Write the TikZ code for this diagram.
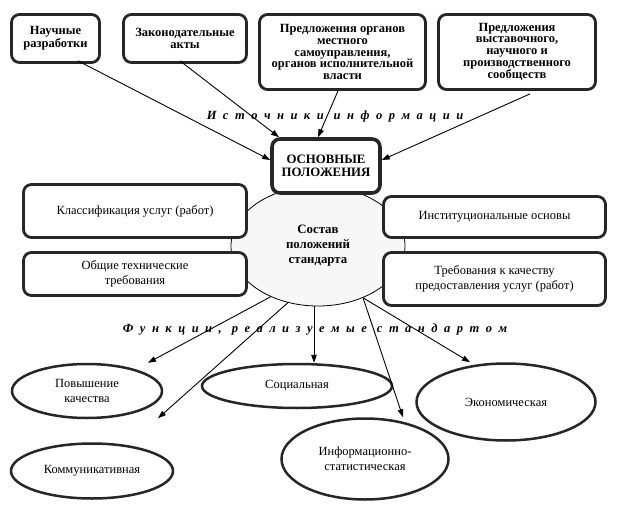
\documentclass[tikz,border=0pt]{standalone}
\usepackage{fontspec}
\setmainfont{Liberation Serif}
\usetikzlibrary{arrows.meta,shapes.geometric,calc}
\def\lsp#1{\lspi#1\relax}
\def\lspi#1{\ifx\relax#1\unskip\else#1\hskip6.5pt\expandafter\lspi\fi}
\begin{document}
\begin{tikzpicture}[x=1pt,y=-1pt,
  srcbox/.style={draw=black!85, line width=2.8pt, rounded corners=8pt, fill=white,
    align=center, inner sep=0pt, font=\fontsize{12.5}{11.6}\selectfont\bfseries},
  midbox/.style={draw=black!85, line width=2.8pt, rounded corners=8pt, fill=white,
    align=center, inner sep=0pt, font=\fontsize{12.5}{15}\selectfont},
  fnell/.style={draw=black!85, line width=2.5pt, ellipse, fill=white, inner sep=0pt,
    align=center, font=\fontsize{12.5}{15}\selectfont},
  arr/.style={draw=black, line width=0.9pt, -{Triangle[length=8pt,width=5.5pt]}},
  lbl/.style={font=\fontsize{12.5}{14}\selectfont\bfseries\itshape, inner sep=0pt}
]
\useasboundingbox (0,0) rectangle (618,505);

% central ellipse
\node[draw=black, line width=0.8pt, ellipse, fill=black!3, minimum width=174pt, minimum height=120pt,
  inner sep=0pt, align=center, font=\fontsize{12.8}{15}\selectfont\bfseries] (sost) at (318,246)
  {Состав\\положений\\стандарта};

% source boxes
\node[srcbox, minimum width=88pt, minimum height=48pt] (nauch) at (55.5,38.5) {Научные\\разработки};
\node[srcbox, minimum width=123pt, minimum height=48pt] (zakon) at (185,38.5) {Законодательные\\акты};
\node[srcbox, minimum width=166pt, minimum height=75pt] (organ) at (342.5,52)
  {Предложения органов\\местного\\самоуправления,\\органов исполнительной\\власти};
\node[srcbox, minimum width=157pt, minimum height=75pt] (vyst) at (517,52)
  {Предложения\\выставочного,\\научного и\\производственного\\сообществ};

% main box
\node[draw=black!85, line width=3.6pt, rounded corners=8pt, fill=white, align=center, inner sep=0pt,
  minimum width=108pt, minimum height=54pt, font=\fontsize{12.8}{13.5}\selectfont\bfseries] (main) at (326,166)
  {ОСНОВНЫЕ\\ПОЛОЖЕНИЯ};

% side boxes
\node[midbox, minimum width=223pt, minimum height=53pt] (klass) at (135,211) {Классификация услуг (работ)};
\node[midbox, minimum width=223pt, minimum height=43pt] (obsch) at (135,274) {Общие технические\\требования};
\node[midbox, minimum width=222pt, minimum height=41pt] (inst) at (494.5,217) {Институциональные основы};
\node[midbox, minimum width=222pt, minimum height=53pt] (treb) at (494.5,279) {Требования к качеству\\предоставления услуг (работ)};

% labels
\node[lbl] (src) at (335,116) {\lsp{Источники}\hskip10pt\lsp{информации}};
\node[lbl] (fun) at (315,330) {\lsp{Функции,}\hskip10pt\lsp{реализуемые}\hskip10pt\lsp{стандартом}};

% function ellipses
\node[fnell, minimum width=150pt, minimum height=54pt] (pov) at (87,391) {Повышение\\качества};
\node[fnell, minimum width=162pt, minimum height=55pt] (komm) at (92,471) {Коммуникативная};
\node[fnell, minimum width=190pt, minimum height=44pt] (soc) at (297,386) {Социальная};
\node[fnell, minimum width=167pt, minimum height=81pt] (info) at (365,459) {Информационно-\\статистическая};
\node[fnell, minimum width=179pt, minimum height=77pt] (ekon) at (506,402) {Экономическая};

% arrows into main
\draw[arr] ([xshift=22.5pt,yshift=3pt]nauch.south) -- ([yshift=6pt]main.west);
\draw[arr] ([xshift=-5pt,yshift=3pt]zakon.south) -- ([xshift=-47pt]main.north);
\draw[arr] ([xshift=-4.5pt]organ.south) -- ([xshift=-8pt]main.north);
\draw[arr] ([xshift=13pt,yshift=-3pt]vyst.south) -- ([yshift=6pt]main.east);

% arrows to functions
\coordinate (s1) at ([xshift=-4pt]sost.south);
\draw[arr] (sost.-133) -- ([xshift=61pt]pov.north);
\draw[arr] (sost.-118) -- ([xshift=66pt,yshift=24pt]komm.north);
\draw[arr] (s1) -- (s1 |- soc.north);
\draw[arr] (sost.-49) -- ([xshift=38pt]info.north);
\draw[arr] (sost.-49) -- ([xshift=-36pt]ekon.north);
\end{tikzpicture}
\end{document}
